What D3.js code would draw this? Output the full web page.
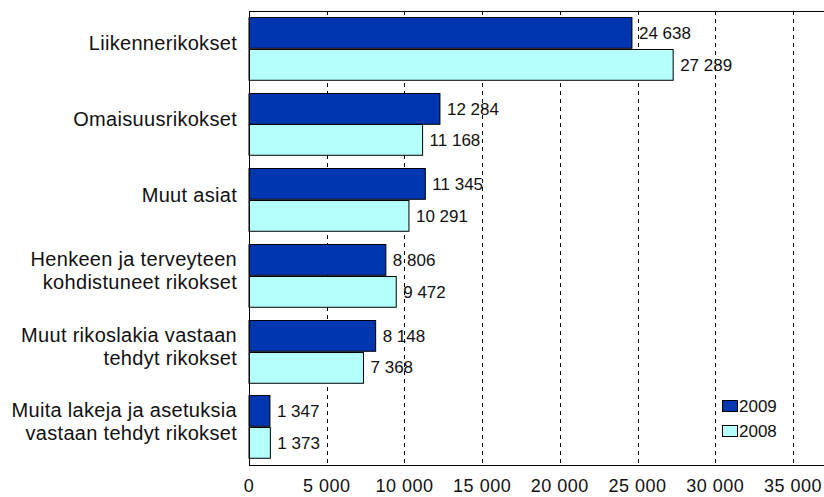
<!DOCTYPE html>
<html>
<head>
<meta charset="utf-8">
<script src="https://cdn.jsdelivr.net/npm/d3@7"></script>
<style>
  body { margin: 0; background: #fff; }
  text { font-family: "Liberation Sans", Arial, sans-serif; font-size: 17px; fill: #111; }
  .cat text, text.cat { font-size: 20px; letter-spacing: 0.3px; }
  .tick-label { font-size: 18px; letter-spacing: 0.5px; }
</style>
</head>
<body>
<svg id="chart" width="824" height="497"></svg>
<script>
const categories = [
  ["Liikennerikokset"],
  ["Omaisuusrikokset"],
  ["Muut asiat"],
  ["Henkeen ja terveyteen", "kohdistuneet rikokset"],
  ["Muut rikoslakia vastaan", "tehdyt rikokset"],
  ["Muita lakeja ja asetuksia", "vastaan tehdyt rikokset"]
];
const values2009 = [24638, 12284, 11345, 8806, 8148, 1347];
const values2008 = [27289, 11168, 10291, 9472, 7368, 1373];
const seriesNames = ["2009", "2008"];
const ticks = [0, 5000, 10000, 15000, 20000, 25000, 30000, 35000];

const colors = ["#0036b0", "#b4fffb"];
const margin = { top: 11, left: 249, bottom: 32 };
const width = 824, height = 497;

const svg = d3.select("#chart");

const x = d3.scaleLinear().domain([0, 35000]).range([margin.left, 793]);
const y = d3.scaleBand().domain(d3.range(categories.length))
  .range([margin.top, height - margin.bottom]).paddingInner(0.16).paddingOuter(0.08);
const sub = d3.scaleBand().domain([0, 1]).range([0, y.bandwidth()]);

const fmt = v => d3.format(",")(v).replace(/,/g, " ");

// dashed gridlines
svg.append("g").selectAll("line")
  .data(ticks.slice(1))
  .join("line")
  .attr("x1", d => Math.round(x(d)) + 0.5).attr("x2", d => Math.round(x(d)) + 0.5)
  .attr("y1", margin.top).attr("y2", height - margin.bottom)
  .attr("stroke", "#000").attr("stroke-dasharray", "4,4");

// bars
const series = [values2009, values2008];
series.forEach((vals, s) => {
  const g = svg.append("g");
  g.selectAll("rect")
    .data(vals)
    .join("rect")
    .attr("x", x(0))
    .attr("y", (d, i) => Math.round(y(i) + sub(s)) + 0.5)
    .attr("width", d => x(d) - x(0))
    .attr("height", sub.bandwidth() - 1)
    .attr("fill", colors[s])
    .attr("stroke", "#000");
  g.selectAll("text")
    .data(vals)
    .join("text")
    .attr("x", d => x(d) + 7)
    .attr("y", (d, i) => y(i) + sub(s) + sub.bandwidth() / 2)
    .attr("dy", "0.35em")
    .text(fmt);
});

// category labels
const cat = svg.append("g").attr("class", "cat").selectAll("text")
  .data(categories)
  .join("text")
  .attr("text-anchor", "end")
  .attr("x", 237)
  .attr("y", (d, i) => y(i) + y.bandwidth() / 2 + 1.5 - (d.length - 1) * 11.5)
  .attr("dy", "0.35em");
cat.selectAll("tspan")
  .data(d => d)
  .join("tspan")
  .attr("x", 237)
  .attr("dy", (d, i) => i === 0 ? 0 : 23)
  .text(d => d);

// axis frame
svg.append("line").attr("x1", margin.left).attr("x2", width)
  .attr("y1", margin.top + 0.5).attr("y2", margin.top + 0.5).attr("stroke", "#000");
svg.append("line").attr("x1", margin.left).attr("x2", width)
  .attr("y1", height - margin.bottom + 0.5).attr("y2", height - margin.bottom + 0.5).attr("stroke", "#000");
svg.append("line").attr("x1", margin.left + 0.5).attr("x2", margin.left + 0.5)
  .attr("y1", margin.top).attr("y2", height - margin.bottom).attr("stroke", "#000");

// x tick labels
svg.append("g").selectAll("text")
  .data(ticks)
  .join("text")
  .attr("class", "tick-label")
  .attr("x", d => x(d))
  .attr("y", 486)
  .attr("dy", "0.35em")
  .attr("text-anchor", "middle")
  .text(fmt);

// legend
const legend = svg.append("g").selectAll("g")
  .data(seriesNames)
  .join("g")
  .attr("transform", (d, i) => `translate(722, ${400 + i * 25})`);
legend.append("rect")
  .attr("x", 0.5).attr("y", 0.5).attr("width", 15).attr("height", 11)
  .attr("fill", (d, i) => colors[i]).attr("stroke", "#000");
legend.append("text")
  .attr("x", 17).attr("y", 6).attr("dy", "0.35em")
  .text(d => d);
</script>
</body>
</html>
